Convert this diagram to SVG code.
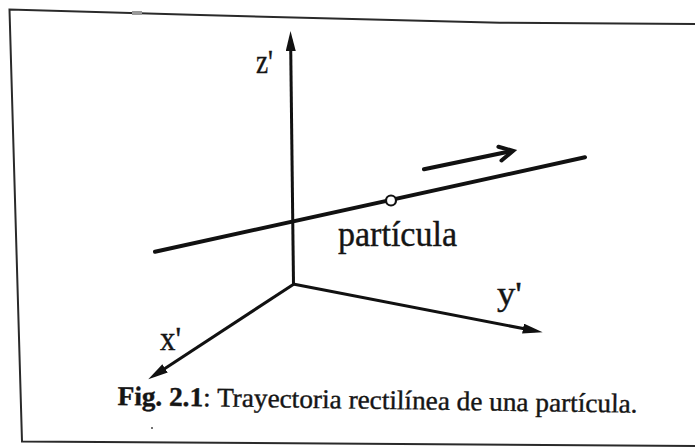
<svg xmlns="http://www.w3.org/2000/svg" width="695" height="448" viewBox="0 0 695 448">
<style>
.frame{fill:none;stroke:#2a2a2a;stroke-width:2}
.axis{fill:none;stroke:#111;stroke-width:3}
.traj{fill:none;stroke:#111;stroke-width:4;stroke-linecap:round}
.lbl{font-family:"Liberation Serif","Times New Roman","DejaVu Serif",serif;fill:#151515;stroke:#151515;stroke-width:0.4}
</style>
<defs>
<marker id="ah" markerUnits="userSpaceOnUse" markerWidth="22" markerHeight="12" refX="12" refY="5" orient="auto">
<path d="M0,0 L20,5 L0,10 Z" fill="#111"/>
</marker>
</defs>
<rect width="695" height="448" fill="#fff"/>
<g id="frame">
<polyline class="frame" points="695,24 500,22.7 200,15 9.5,9.5 22,441.5 695,446"/>
<rect x="132" y="11" width="10" height="4" fill="#999"/>
<circle cx="152" cy="428" r="1" fill="#444"/>
</g>
<g id="connectors">
<line id="z-axis" class="axis" x1="293.5" y1="284" x2="290.6" y2="39" marker-end="url(#ah)"/>
<line id="y-axis" class="axis" x1="293" y1="284" x2="534.8" y2="330.8" marker-end="url(#ah)"/>
<line id="x-axis" class="axis" x1="294" y1="284" x2="155" y2="374.9" marker-end="url(#ah)"/>
<line id="trajectory" class="traj" x1="155" y1="251.7" x2="585" y2="157.3"/>
<g id="motion-arrow" class="traj" stroke-width="3.5">
<line x1="424" y1="169.3" x2="512" y2="151"/>
<polyline points="498.4,146.7 513,150.8 501.5,160.5" stroke-linejoin="miter"/>
</g>
</g>
<g id="particle">
<circle cx="391" cy="200.5" r="5" fill="#fff" stroke="#111" stroke-width="2.2"/>
<text class="lbl" x="338" y="246" font-size="36" textLength="119" lengthAdjust="spacingAndGlyphs">partícula</text>
</g>
<g id="label-z"><text class="lbl" x="256" y="72.5" font-size="34" textLength="17" lengthAdjust="spacingAndGlyphs">z'</text></g>
<g id="label-y"><text class="lbl" x="497" y="305" font-size="34" textLength="25" lengthAdjust="spacingAndGlyphs">y'</text></g>
<g id="label-x"><text class="lbl" x="160" y="350" font-size="34" textLength="21" lengthAdjust="spacingAndGlyphs">x'</text></g>
<g id="caption">
<text class="lbl" x="117.5" y="405" font-size="27" textLength="520" lengthAdjust="spacingAndGlyphs" transform="rotate(0.85 117.5 405)"><tspan font-weight="bold">Fig. 2.1</tspan>: Trayectoria rectilínea de una partícula.</text>
</g>
</svg>
